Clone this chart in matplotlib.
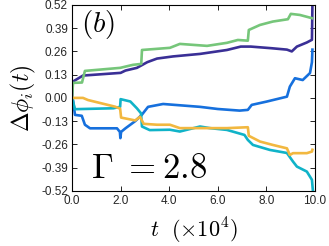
import matplotlib
matplotlib.use('Agg')
import matplotlib.pyplot as plt
import numpy as np

plt.rcParams['mathtext.fontset'] = 'cm'
plt.rcParams['font.family'] = ['Liberation Sans', 'DejaVu Sans']

# time in units of 1e4, values of delta phi
t_purple = [0, 0.02, 0.45, 2.0, 2.2, 2.67, 3.1, 3.5, 4.16, 5.27, 6.38, 6.95, 7.36, 8.2, 8.85, 9.05, 9.26, 9.67, 9.88, 9.9]
y_purple = [0, 0.09, 0.125, 0.14, 0.153, 0.168, 0.2, 0.22, 0.232, 0.246, 0.268, 0.287, 0.287, 0.278, 0.27, 0.26, 0.287, 0.31, 0.325, 0.52]

t_green = [0, 0.04, 0.41, 0.53, 1.98, 2.51, 2.85, 2.88, 4.03, 4.44, 5.56, 6.38, 6.83, 7.24, 7.28, 7.74, 8.27, 8.89, 9.01, 9.38, 9.88]
y_green = [0, 0.084, 0.086, 0.151, 0.168, 0.185, 0.19, 0.268, 0.28, 0.302, 0.291, 0.308, 0.324, 0.32, 0.38, 0.408, 0.427, 0.44, 0.47, 0.464, 0.446]

t_blue = [0, 0.04, 0.12, 0.4, 0.53, 0.74, 1.85, 1.97, 1.99, 2.02, 2.2, 2.6, 2.87, 3.13, 3.75, 5.27, 6.0, 6.9, 7.24, 7.4, 8.0, 8.85, 8.97, 9.18, 9.5, 9.8, 9.88, 9.9]
y_blue = [0, -0.012, -0.095, -0.1, -0.15, -0.17, -0.17, -0.19, -0.225, -0.19, -0.17, -0.13, -0.095, -0.05, -0.034, -0.05, -0.062, -0.071, -0.067, -0.039, -0.021, 0.007, 0.063, 0.11, 0.1, 0.139, 0.2, 0.27]

t_cyan = [0, 0.12, 1.7, 1.98, 2.0, 2.4, 2.67, 2.84, 2.88, 3.2, 4.03, 4.44, 5.27, 5.68, 6.38, 7.1, 7.24, 7.45, 8.15, 8.85, 9.1, 9.26, 9.67, 9.88, 9.92]
y_cyan = [0, -0.063, -0.058, -0.05, -0.007, -0.02, -0.058, -0.086, -0.16, -0.18, -0.178, -0.188, -0.16, -0.169, -0.179, -0.207, -0.235, -0.263, -0.291, -0.308, -0.356, -0.384, -0.412, -0.458, -0.52]

t_yellow = [0, 0.45, 0.66, 1.77, 1.98, 2.02, 2.6, 2.8, 2.95, 3.5, 4.03, 4.44, 5.27, 6.38, 7.24, 7.28, 7.74, 8.27, 8.85, 8.97, 9.1, 9.67, 9.88, 9.9]
y_yellow = [0, 0.0, -0.012, -0.049, -0.06, -0.11, -0.126, -0.106, -0.145, -0.15, -0.15, -0.169, -0.169, -0.169, -0.164, -0.212, -0.244, -0.263, -0.282, -0.319, -0.309, -0.309, -0.3, -0.29]

yticks = [-0.52, -0.39, -0.26, -0.13, 0.0, 0.13, 0.26, 0.39, 0.52]
ytick_labels = ['-0.52', '-0.39', '-0.26', '-0.13', '0.00', '0.13', '0.26', '0.39', '0.52']
xticks = [0, 2, 4, 6, 8, 10]
xtick_labels = ['0.0', '2.0', '4.0', '6.0', '8.0', '10.0']

fig = plt.figure(figsize=(3.29, 2.46), dpi=100)
ax = fig.add_axes([0.219, 0.224, 0.738, 0.756])

lw = 1.9
ax.plot(t_purple, y_purple, color='#3a2f96', lw=lw)
ax.plot(t_blue, y_blue, color='#1670dd', lw=lw)
ax.plot(t_cyan, y_cyan, color='#10b3c8', lw=lw)
ax.plot(t_green, y_green, color='#76c67a', lw=lw)
ax.plot(t_yellow, y_yellow, color='#f2b840', lw=lw)

ax.set_xlim(0, 10)
ax.set_ylim(-0.52, 0.52)
ax.set_xticks(xticks)
ax.set_xticklabels(xtick_labels)
ax.set_yticks(yticks)
ax.set_yticklabels(ytick_labels)
ax.tick_params(direction='in', top=True, right=True, length=3.5, width=0.6, labelsize=8.5, pad=3,
               labelcolor='#262626')
for s in ax.spines.values():
    s.set_linewidth(0.8)

ax.set_ylabel(r'$\Delta\phi_i(t)$', fontsize=17, labelpad=2)
ax.text(0.5, -0.135, r'$t\ \ (\times 10^4)$', transform=ax.transAxes, fontsize=16, va='top', ha='center')
ax.text(0.035, 0.985, r'$(b)$', transform=ax.transAxes, fontsize=21, va='top', ha='left')
ax.text(0.08, 0.03, r'$\Gamma\ = 2.8$', transform=ax.transAxes, fontsize=25, va='bottom', ha='left')

fig.savefig('out.png', dpi=100)
